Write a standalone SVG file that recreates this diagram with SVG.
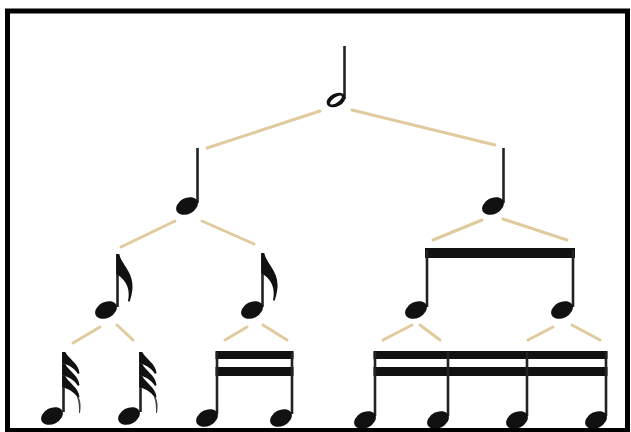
<svg xmlns="http://www.w3.org/2000/svg" xmlns:xlink="http://www.w3.org/1999/xlink" width="631" height="432" viewBox="0 0 631 432">
  <style>
    .conn { stroke: #E0CA9E; stroke-width: 3; stroke-linecap: round; fill: none; }
    .stem { stroke: #222; stroke-width: 2.6; fill: none; }
    .beam { fill: #111; }
  </style>
  <defs>
    <ellipse id="head" cx="0" cy="0" rx="11.5" ry="8" transform="rotate(-27)" fill="#111"/>
    <path id="flag8" d="M-1.3,0 L1.8,0 C3.5,10 16,18 15,34 C14.6,39 13.5,44 12,48 L10.5,47 C12.5,38 11,27 -1.3,20 Z" fill="#111"/>
    <path id="flag32" d="M-1.3,0 L1.8,0 C5,7 15,11 16,21 L14.5,22 C11,16 5,13 -1.3,11 Z" fill="#111"/>
  </defs>
  <rect x="0" y="0" width="631" height="432" fill="#fff"/>

  <g id="connectors">
    <line class="conn" x1="320" y1="111" x2="207" y2="148"/>
    <line class="conn" x1="352" y1="110" x2="495" y2="145"/>
    <line class="conn" x1="175" y1="221" x2="121" y2="247"/>
    <line class="conn" x1="202" y1="221" x2="254" y2="244"/>
    <line class="conn" x1="482" y1="220" x2="433" y2="240"/>
    <line class="conn" x1="503" y1="219" x2="567" y2="240"/>
    <line class="conn" x1="100" y1="327" x2="73" y2="343"/>
    <line class="conn" x1="117" y1="325" x2="133" y2="340"/>
    <line class="conn" x1="247" y1="327" x2="225" y2="340"/>
    <line class="conn" x1="263" y1="325" x2="287" y2="340"/>
    <line class="conn" x1="412" y1="325" x2="383" y2="340"/>
    <line class="conn" x1="420" y1="325" x2="440" y2="340"/>
    <line class="conn" x1="553" y1="327" x2="528" y2="340"/>
    <line class="conn" x1="572" y1="325" x2="600" y2="340"/>
  </g>

  <g id="half-note">
    <line class="stem" x1="344.5" y1="46" x2="344.5" y2="99"/>
    <ellipse cx="336" cy="100" rx="10" ry="6.5" transform="rotate(-27 336 100)" fill="#111"/>
    <ellipse cx="336" cy="100" rx="7" ry="2.6" transform="rotate(-35 336 100)" fill="#fff"/>
  </g>

  <g id="quarter-left">
    <line class="stem" x1="197.5" y1="148" x2="197.5" y2="203"/>
    <use xlink:href="#head" transform="translate(187,206)"/>
  </g>
  <g id="quarter-right">
    <line class="stem" x1="503.5" y1="148" x2="503.5" y2="203"/>
    <use xlink:href="#head" transform="translate(493,206)"/>
  </g>

  <g id="eighth-1">
    <line class="stem" x1="117.5" y1="254" x2="117.5" y2="307"/>
    <use xlink:href="#flag8" transform="translate(117.5,254)"/>
    <use xlink:href="#head" transform="translate(106,310)"/>
  </g>
  <g id="eighth-2">
    <line class="stem" x1="262.5" y1="253" x2="262.5" y2="307"/>
    <use xlink:href="#flag8" transform="translate(262.5,253)"/>
    <use xlink:href="#head" transform="translate(252,310)"/>
  </g>

  <g id="eighth-pair">
    <rect class="beam" x="425" y="248" width="150" height="10"/>
    <line class="stem" x1="427" y1="250" x2="427" y2="307"/>
    <line class="stem" x1="573" y1="250" x2="573" y2="307"/>
    <use xlink:href="#head" transform="translate(416,310)"/>
    <use xlink:href="#head" transform="translate(562,310)"/>
  </g>

  <g id="thirtysecond-1">
    <line class="stem" x1="63.5" y1="352" x2="63.5" y2="412"/>
    <use xlink:href="#flag32" transform="translate(63.5,352)"/>
    <use xlink:href="#flag32" transform="translate(63.5,364)"/>
    <use xlink:href="#flag32" transform="translate(63.5,376)"/>
    <path d="M78,396 C81,401 81,407 80,413 L79,413 C79,407 79,402 77,397 Z" fill="#444"/>
    <use xlink:href="#head" transform="translate(52,416)"/>
  </g>
  <g id="thirtysecond-2">
    <line class="stem" x1="140.5" y1="352" x2="140.5" y2="412"/>
    <use xlink:href="#flag32" transform="translate(140.5,352)"/>
    <use xlink:href="#flag32" transform="translate(140.5,364)"/>
    <use xlink:href="#flag32" transform="translate(140.5,376)"/>
    <path d="M155,396 C158,401 158,407 157,413 L156,413 C156,407 156,402 154,397 Z" fill="#444"/>
    <use xlink:href="#head" transform="translate(129,416)"/>
  </g>

  <g id="sixteenth-pair">
    <rect class="beam" x="215.5" y="351" width="78" height="8"/>
    <rect class="beam" x="215.5" y="367" width="78" height="9"/>
    <line class="stem" x1="217" y1="352" x2="217" y2="414"/>
    <line class="stem" x1="292" y1="352" x2="292" y2="414"/>
    <use xlink:href="#head" transform="translate(207,418)"/>
    <use xlink:href="#head" transform="translate(281,418)"/>
  </g>

  <g id="sixteenth-four">
    <rect class="beam" x="373.5" y="351" width="234" height="8"/>
    <rect class="beam" x="373.5" y="367" width="234" height="9"/>
    <line class="stem" x1="375" y1="352" x2="375" y2="416"/>
    <line class="stem" x1="448" y1="352" x2="448" y2="416"/>
    <line class="stem" x1="527" y1="352" x2="527" y2="416"/>
    <line class="stem" x1="606" y1="352" x2="606" y2="416"/>
    <use xlink:href="#head" transform="translate(365,420)"/>
    <use xlink:href="#head" transform="translate(438,420)"/>
    <use xlink:href="#head" transform="translate(517,420)"/>
    <use xlink:href="#head" transform="translate(596,420)"/>
  </g>

  <rect x="7.5" y="11" width="620" height="419.5" fill="none" stroke="#000" stroke-width="5"/>
</svg>
